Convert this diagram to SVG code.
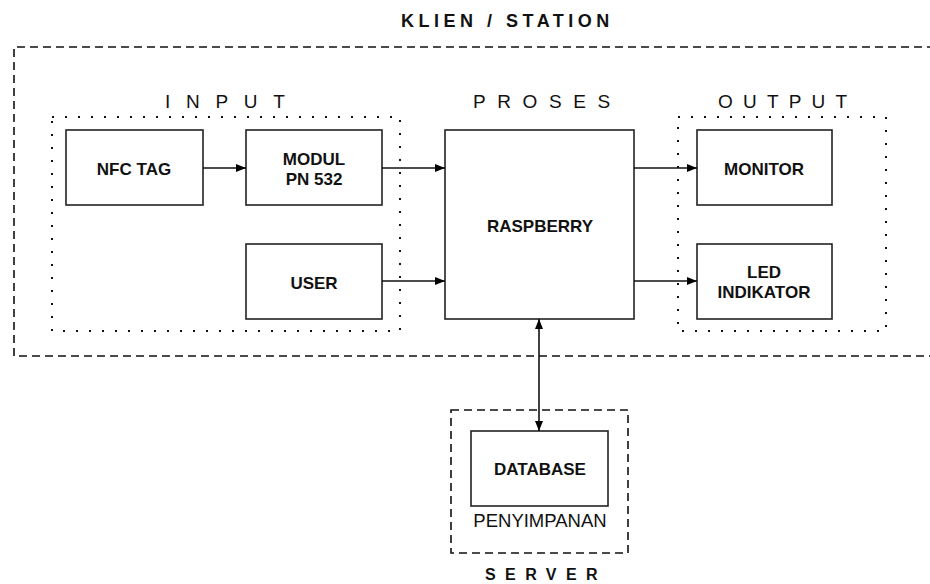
<svg xmlns="http://www.w3.org/2000/svg" width="930" height="584" viewBox="0 0 930 584">
<defs>
<marker id="arr" markerWidth="10" markerHeight="8" refX="10" refY="4" orient="auto-start-reverse" markerUnits="userSpaceOnUse">
<path d="M0,0 L10,4 L0,8 Z" fill="#000"/>
</marker>
<style>
.box{fill:#fff;stroke:#222;stroke-width:1.6}
.dash{fill:none;stroke:#111;stroke-width:1.6;stroke-dasharray:8,5}
.dot{fill:none;stroke:#111;stroke-width:2;stroke-dasharray:2,11}
.lbl{font-family:"Liberation Sans",Arial,sans-serif;font-weight:bold;font-size:17px;fill:#111;text-anchor:middle}
.sec{font-family:"Liberation Sans",Arial,sans-serif;font-size:19px;fill:#111}
.ttl{font-family:"Liberation Sans",Arial,sans-serif;font-weight:bold;font-size:18px;fill:#111}
.con{stroke:#111;stroke-width:1.6;fill:none}
</style>
</defs>
<rect width="930" height="584" fill="#fff"/>
<g id="klien">
<path class="dash" d="M935,47 H14 V356 H935"/>
<text class="ttl" x="401" y="27" style="letter-spacing:4.5px">KLIEN / STATION</text>
</g>
<g id="input-group">
<rect class="dot" x="52" y="117" width="348" height="214"/>
<text class="sec" x="165" y="108" style="letter-spacing:15.7px">INPUT</text>
</g>
<g id="output-group">
<rect class="dot" x="678" y="117" width="208" height="214"/>
<text class="sec" x="718" y="108" style="letter-spacing:10.2px">OUTPUT</text>
</g>
<text class="sec" x="473" y="108" style="letter-spacing:11.6px">PROSES</text>
<g id="server">
<rect class="dash" x="451" y="410" width="177" height="143"/>
<text class="ttl" x="485" y="580" style="font-size:16px;letter-spacing:9.4px">SERVER</text>
</g>
<g id="nfc"><rect class="box" x="66" y="130" width="137" height="75"/><text class="lbl" x="134" y="175">NFC TAG</text></g>
<g id="modul"><rect class="box" x="246" y="130" width="136" height="75"/><text class="lbl" x="314" y="165">MODUL</text><text class="lbl" x="314" y="185">PN 532</text></g>
<g id="user"><rect class="box" x="246" y="244" width="136" height="75"/><text class="lbl" x="314" y="289">USER</text></g>
<g id="raspberry"><rect class="box" x="445" y="130" width="189" height="189"/><text class="lbl" x="540" y="232">RASPBERRY</text></g>
<g id="monitor"><rect class="box" x="697" y="130" width="135" height="75"/><text class="lbl" x="764" y="175">MONITOR</text></g>
<g id="led"><rect class="box" x="697" y="244" width="135" height="75"/><text class="lbl" x="764" y="278">LED</text><text class="lbl" x="764" y="298">INDIKATOR</text></g>
<g id="database"><rect class="box" x="471" y="431" width="137" height="75"/><text class="lbl" x="540" y="475">DATABASE</text>
<text x="540" y="527" style="font-family:'Liberation Sans',Arial,sans-serif;font-size:18.5px;fill:#111;text-anchor:middle">PENYIMPANAN</text></g>
<g id="connectors">
<line class="con" x1="203" y1="168" x2="246" y2="168" marker-end="url(#arr)"/>
<line class="con" x1="382" y1="168" x2="445" y2="168" marker-end="url(#arr)"/>
<line class="con" x1="382" y1="281" x2="445" y2="281" marker-end="url(#arr)"/>
<line class="con" x1="634" y1="168" x2="697" y2="168" marker-end="url(#arr)"/>
<line class="con" x1="634" y1="281" x2="697" y2="281" marker-end="url(#arr)"/>
<line class="con" x1="539" y1="319" x2="539" y2="431" marker-start="url(#arr)" marker-end="url(#arr)"/>
</g>
</svg>
